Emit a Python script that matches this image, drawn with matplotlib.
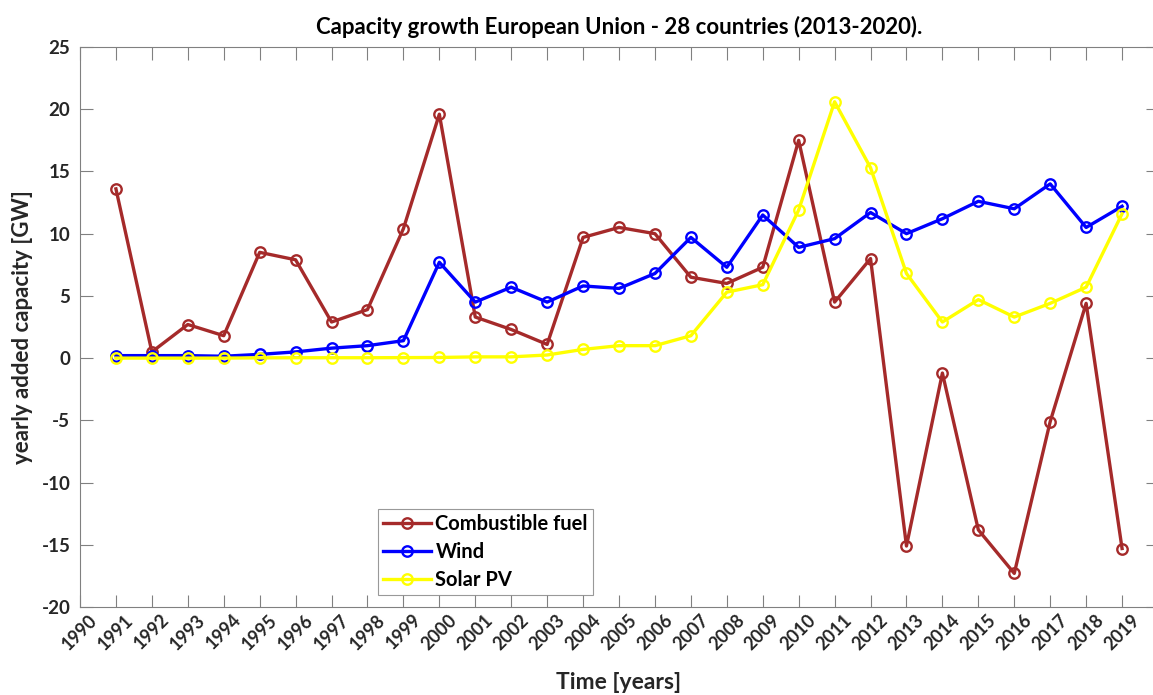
import matplotlib
matplotlib.use("Agg")
import matplotlib.pyplot as plt

plt.rcParams['font.family'] = ['Lato', 'DejaVu Sans']

years = list(range(1991, 2020))

combustible = [13.6, 0.5, 2.7, 1.8, 8.5, 7.9, 2.9, 3.9, 10.4, 19.6,
               3.3, 2.3, 1.1, 9.7, 10.5, 10.0, 6.5, 6.0, 7.3, 17.5,
               4.5, 8.0, -15.1, -1.2, -13.8, -17.3, -5.1, 4.4, -15.3]
wind = [0.2, 0.2, 0.2, 0.15, 0.3, 0.5, 0.8, 1.0, 1.4, 7.7,
        4.5, 5.7, 4.5, 5.8, 5.6, 6.8, 9.7, 7.3, 11.5, 8.9,
        9.6, 11.7, 10.0, 11.2, 12.6, 12.0, 14.0, 10.5, 12.2]
solar = [0.0, 0.0, 0.0, 0.0, 0.02, 0.03, 0.03, 0.03, 0.04, 0.05,
         0.1, 0.1, 0.25, 0.7, 1.0, 1.0, 1.8, 5.3, 5.9, 11.9,
         20.6, 15.3, 6.8, 2.9, 4.7, 3.3, 4.4, 5.7, 11.6]

tick_years = list(range(1990, 2020))
yticks = list(range(-20, 30, 5))

fig = plt.figure(figsize=(11.53, 6.95), dpi=100)
W, H = 1153, 695
# right edge of the box sits just past the picture, like the original
ax = fig.add_axes([80 / W, 1 - 607 / H, (1158 - 80) / W, (607 - 47) / H])

mk = dict(marker='o', markerfacecolor='none', markersize=7.5, markeredgewidth=1.7, linewidth=2.4)
ax.plot(years, combustible, color='#a52a2a', label='Combustible fuel', **mk)
ax.plot(years, wind, color='#0000ff', label='Wind', **mk)
ax.plot(years, solar, color='#ffff00', label='Solar PV', **mk)

ax.set_xlim(1990, 2020)
ax.set_ylim(-20, 25)
ax.set_xticks(tick_years)
ax.set_xticklabels([str(y) for y in tick_years], rotation=45, fontsize=13, fontweight='bold',
                   color='#262626')
ax.set_yticks(yticks)
ax.set_yticklabels([str(v) for v in yticks], fontsize=13.5, fontweight='bold', color='#262626')
ax.tick_params(axis='both', direction='in', top=True, right=True, length=9, width=0.8,
               color='#808080', pad=7)
ax.tick_params(axis='x', pad=3)
for s in ax.spines.values():
    s.set_color('#808080')
    s.set_linewidth(0.8)

ax.set_title('Capacity growth European Union - 28 countries (2013-2020).', fontsize=16,
             fontweight='bold', color='black', pad=9)
ax.set_xlabel('Time [years]', fontsize=16.5, fontweight='bold', color='#262626', labelpad=14)
ax.set_ylabel('yearly added capacity [GW]', fontsize=16, fontweight='bold', color='#262626',
              labelpad=6)

leg = ax.legend(loc='lower left', bbox_to_anchor=((378 - 80) / 1078, (607 - 595) / 560),
                fontsize=14.5, frameon=True, fancybox=False, handlelength=2.4,
                borderpad=0.25, labelspacing=0.4, handletextpad=0.2, borderaxespad=0)
leg.get_frame().set_edgecolor('#808080')
leg.get_frame().set_linewidth(0.8)
for t in leg.get_texts():
    t.set_fontweight('bold')

fig.savefig('out.png', dpi=100)
